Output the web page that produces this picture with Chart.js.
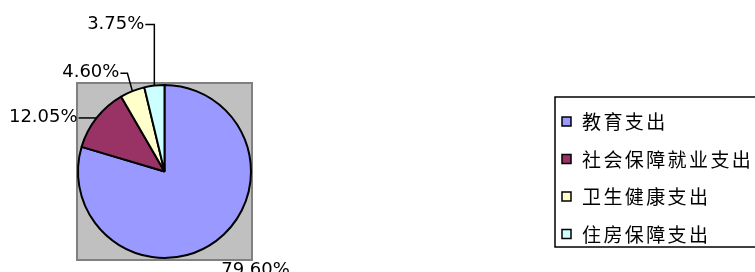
<!DOCTYPE html>
<html>
<head>
<meta charset="utf-8">
<script src="https://cdn.jsdelivr.net/npm/chart.js@4.4.1/dist/chart.umd.min.js"></script>
<style>
  html, body { margin: 0; padding: 0; background: #fff; overflow: hidden; }
  #wrap { position: relative; width: 755px; height: 272px; }
</style>
</head>
<body>
<div id="wrap"><canvas id="pieChart" width="755" height="272"></canvas></div>
<script>
// data
var categories = ['教育支出', '社会保障就业支出', '卫生健康支出', '住房保障支出'];
var shares = [79.60, 12.05, 4.60, 3.75];
var sliceColors = ['#9999FF', '#993366', '#FFFFCC', '#CCFFFF'];

// leader line bends (relative to the slice's outer midpoint) and where the text sits
var leaders = [
  { pts: [], text: [5, 29], align: 'left' },
  { pts: [[0, 0], [-18, 0]], text: [-19, -1], align: 'right' },
  { pts: [[0, 0], [-5, -18], [-12, -18]], text: [-13, -19], align: 'right' },
  { pts: [[0, 0], [0, -61], [-9, -61]], text: [-10, -61], align: 'right' }
];

var plotBack = {
  id: 'plotBack',
  beforeDraw: function(chart) {
    var ctx = chart.ctx, a = chart.chartArea;
    ctx.save();
    ctx.fillStyle = '#C0C0C0';
    ctx.fillRect(a.left, a.top - 1, a.right - a.left, a.bottom - a.top + 2);
    ctx.strokeStyle = '#808080';
    ctx.lineWidth = 2;
    ctx.strokeRect(a.left, a.top - 1, a.right - a.left, a.bottom - a.top + 2);
    ctx.restore();
  }
};

var pctLabels = {
  id: 'pctLabels',
  afterDraw: function(chart) {
    var ctx = chart.ctx;
    var arcs = chart.getDatasetMeta(0).data;
    ctx.save();
    ctx.font = '18px "DejaVu Sans"';
    ctx.fillStyle = '#000';
    ctx.strokeStyle = '#000';
    ctx.lineWidth = 1.5;
    ctx.textBaseline = 'middle';
    for (var i = 0; i < arcs.length; i++) {
      var arc = arcs[i];
      var mid = (arc.startAngle + arc.endAngle) / 2;
      var ax = arc.x + Math.cos(mid) * arc.outerRadius;
      var ay = arc.y + Math.sin(mid) * arc.outerRadius;
      var l = leaders[i];
      if (l.pts.length) {
        ctx.beginPath();
        for (var j = 0; j < l.pts.length; j++) {
          var px = ax + l.pts[j][0], py = ay + l.pts[j][1];
          if (j == 0) ctx.moveTo(px, py); else ctx.lineTo(px, py);
        }
        ctx.stroke();
      }
      ctx.textAlign = l.align;
      ctx.fillText(shares[i].toFixed(2) + '%', ax + l.text[0], ay + l.text[1]);
    }
    ctx.restore();
  }
};

var boxLegend = {
  id: 'boxLegend',
  afterDraw: function(chart) {
    var ctx = chart.ctx;
    var left = 555, top = 97, rowH = 37.5;
    ctx.save();
    ctx.strokeStyle = '#000';
    ctx.lineWidth = 1.5;
    ctx.strokeRect(left, top, 220, 150);
    ctx.font = '19px "Noto Sans CJK SC"';
    ctx.letterSpacing = '2.4px';
    ctx.textAlign = 'left';
    ctx.textBaseline = 'middle';
    for (var i = 0; i < categories.length; i++) {
      var cy = top + 25 + i * rowH;
      ctx.fillStyle = sliceColors[i];
      ctx.fillRect(562, cy - 5, 9, 9);
      ctx.lineWidth = 1.5;
      ctx.strokeRect(562, cy - 5, 9, 9);
      ctx.fillStyle = '#000';
      ctx.fillText(categories[i], 582, cy);
    }
    ctx.restore();
  }
};

var ctx = document.getElementById('pieChart');
var myChart = new Chart(ctx, {
  type: 'pie',
  data: {
    labels: categories,
    datasets: [{
      data: shares,
      backgroundColor: sliceColors,
      borderColor: '#000',
      borderWidth: 2
    }]
  },
  options: {
    responsive: false,
    animation: false,
    devicePixelRatio: 1,
    layout: { padding: { left: 77, top: 84, right: 503, bottom: 13 } },
    plugins: {
      legend: { display: false },
      tooltip: { enabled: false }
    }
  },
  plugins: [plotBack, pctLabels, boxLegend]
});
</script>
</body>
</html>
